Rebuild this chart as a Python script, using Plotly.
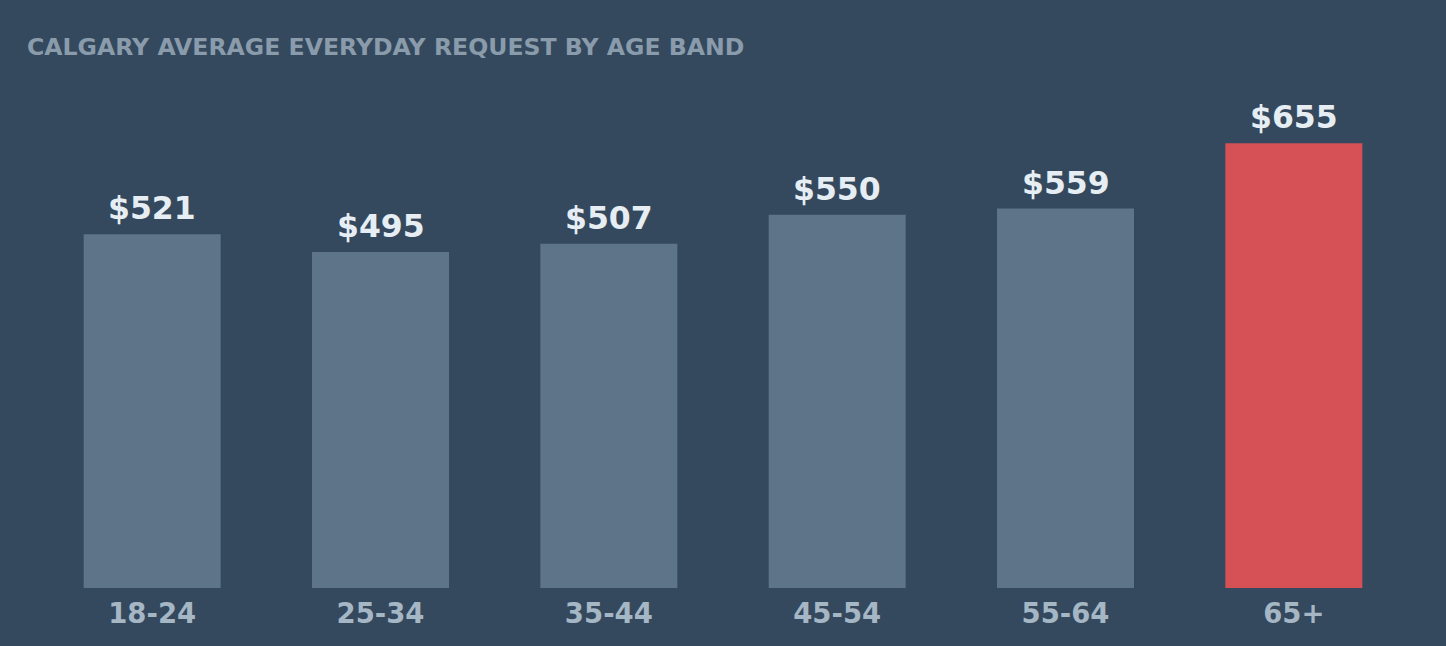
import plotly.graph_objects as go

age_bands = ["18-24", "25-34", "35-44", "45-54", "55-64", "65+"]
avg_request = [521, 495, 507, 550, 559, 655]
value_labels = ["$521", "$495", "$507", "$550", "$559", "$655"]

BG = "#34495e"
BAR = "#5d7489"
HIGHLIGHT = "#d55156"

colors = [HIGHLIGHT if v == max(avg_request) else BAR for v in avg_request]

fig = go.Figure(
    go.Bar(
        x=age_bands,
        y=avg_request,
        marker=dict(color=colors, line=dict(width=0)),
        hoverinfo="skip",
    )
)

# value labels above each bar
for band, val, lab in zip(age_bands, avg_request, value_labels):
    fig.add_annotation(
        x=band,
        y=val,
        text=f"<b>{lab}</b>",
        showarrow=False,
        yanchor="bottom",
        yshift=6,
        font=dict(size=31.5, color="#e6eef4"),
    )

fig.update_layout(
    width=1446,
    height=646,
    paper_bgcolor=BG,
    plot_bgcolor=BG,
    font=dict(family="DejaVu Sans"),
    title=dict(
        text="<b>CALGARY AVERAGE EVERYDAY REQUEST BY AGE BAND</b>",
        x=27 / 1446,
        xanchor="left",
        y=1 - 47 / 646,
        yanchor="middle",
        font=dict(size=23.6, color="#8a9cab"),
    ),
    margin=dict(l=38, r=38, t=68, b=58),
    bargap=0.4,
    showlegend=False,
)
fig.update_xaxes(
    showgrid=False,
    showline=False,
    ticks="",
    ticklabelstandoff=6,
    tickfont=dict(size=27.5, color="#a5b6c4"),
    tickprefix="<b>",
    ticksuffix="</b>",
)
fig.update_yaxes(visible=False, range=[0, 766])

fig.write_html(
    "out.html",
    config={"displayModeBar": False},
    post_script="document.body.style.margin='0';",
)
